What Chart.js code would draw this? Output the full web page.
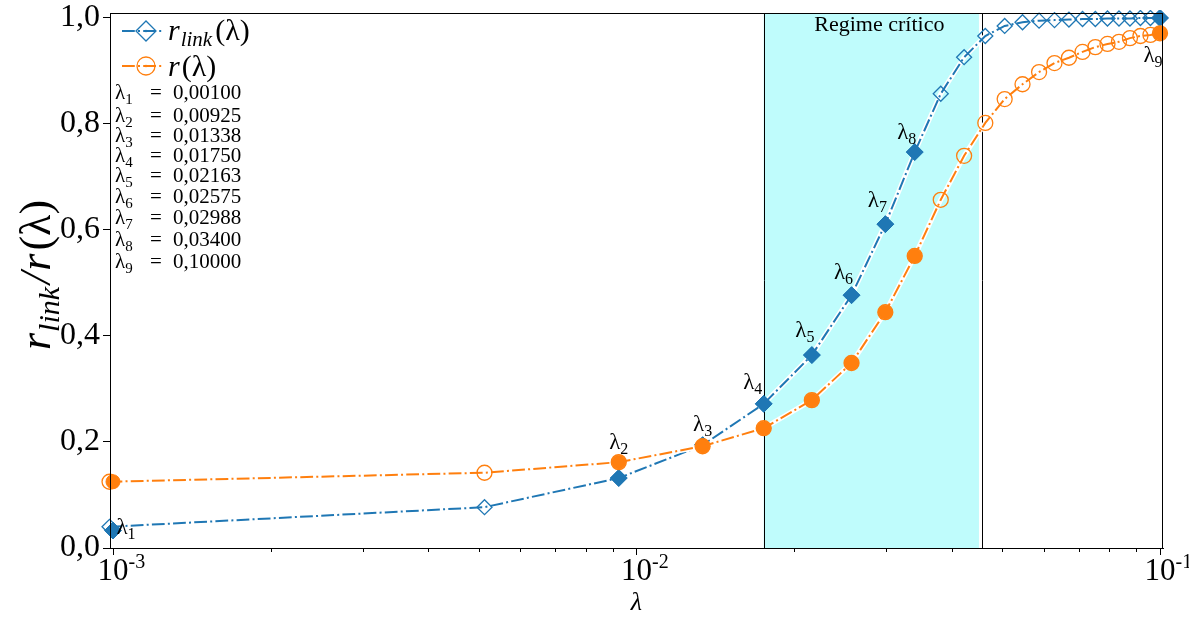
<!DOCTYPE html>
<html>
<head>
<meta charset="utf-8">
<script src="https://cdn.jsdelivr.net/npm/chart.js@4.4.0/dist/chart.umd.min.js"></script>
<style>
  html, body { margin: 0; padding: 0; background: #fff; }
  #wrap { width: 1189px; height: 617px; }
</style>
</head>
<body>
<div id="wrap"><canvas id="rChart" width="1189" height="617"></canvas></div>
<script>
// --- Data ---
const lambdas = [0.000985, 0.005125, 0.00925, 0.013375, 0.0175, 0.021625, 0.02575, 0.029875, 0.034,
                 0.038125, 0.04225, 0.046375, 0.0505, 0.054625, 0.05875, 0.062875, 0.067, 0.071125,
                 0.07525, 0.079375, 0.0835, 0.087625, 0.09175, 0.095875, 0.1];
const rLink = [0.040, 0.077, 0.132, 0.194, 0.272, 0.364, 0.477, 0.611, 0.747,
               0.857, 0.926, 0.966, 0.985, 0.992, 0.995, 0.996, 0.997, 0.998,
               0.998, 0.999, 0.999, 0.999, 1.0, 1.0, 1.0];
const rNet = [0.125, 0.142, 0.162, 0.192, 0.226, 0.279, 0.349, 0.445, 0.551,
              0.657, 0.740, 0.802, 0.847, 0.875, 0.898, 0.915, 0.925, 0.936,
              0.945, 0.951, 0.955, 0.962, 0.966, 0.968, 0.971];

// highlighted lambda values (filled markers)
const markLambdas = [0.00100, 0.00925, 0.01338, 0.01750, 0.02163, 0.02575, 0.02988, 0.03400, 0.10000];
const markLabels = ['0,00100', '0,00925', '0,01338', '0,01750', '0,02163', '0,02575', '0,02988', '0,03400', '0,10000'];
const markRLink = [0.033, 0.132, 0.194, 0.272, 0.364, 0.477, 0.611, 0.747, 1.0];
const markR = [0.125, 0.162, 0.192, 0.226, 0.279, 0.349, 0.445, 0.551, 0.971];

const criticalBand = [0.0175, 0.0451];
const bandEdges = [0.0175, 0.0457];
const bandTitle = 'Regime crítico';

const yTicks = [0.0, 0.2, 0.4, 0.6, 0.8, 1.0];
const xMajor = [0.001, 0.01, 0.1];
const xMajorExp = ['-3', '-2', '-1'];
const xMinorFactors = [2, 3, 4, 5, 6, 7, 8, 9];

const BLUE = '#1f77b4';
const ORANGE = '#ff7f0e';
const SERIF = '"Liberation Serif", "DejaVu Serif", serif';
const DASHDOT = [12.8, 3.2, 2, 3.2];

// where each lambda_i label sits: which curve it follows, and (dx, dy) from that marker
const labelAnchors = [
  ['link', 13, -4], ['r', 0, -21], ['link', 0, -22], ['link', -11, -22], ['link', -7, -26],
  ['link', -8, -24], ['link', -8, -25], ['link', -8, -21], ['r', -7, 21]
];

// --- Helpers ---
function pts(xs, ys) {
  return xs.map((v, i) => ({ x: v, y: ys[i] }));
}

// lambda with a numeric subscript, centred on (cx, cy)
function drawLambdaSub(ctx, cx, cy, idx, size, align) {
  const main = size + 'px ' + SERIF;
  const sub = Math.round(size * 0.7) + 'px ' + SERIF;
  ctx.font = main;
  const w1 = ctx.measureText('λ').width;
  ctx.font = sub;
  const w2 = ctx.measureText(String(idx)).width;
  const left = align === 'left' ? cx : cx - (w1 + w2) / 2;
  ctx.textBaseline = 'alphabetic';
  ctx.textAlign = 'left';
  ctx.font = main;
  ctx.fillText('λ', left, cy + size * 0.33);
  ctx.font = sub;
  ctx.fillText(String(idx), left + w1, cy + size * 0.33 + size * 0.22);
  return left + w1 + w2;
}

// text pieces with subscripts, laid out left to right
function drawRich(ctx, x, y, parts) {
  let cx = x;
  parts.forEach(p => {
    ctx.font = p.font;
    ctx.fillText(p.t, cx, y + (p.dy || 0));
    cx += ctx.measureText(p.t).width + (p.gap || 0);
  });
  return cx;
}
function richWidth(ctx, parts) {
  let w = 0;
  parts.forEach(p => { ctx.font = p.font; w += ctx.measureText(p.t).width + (p.gap || 0); });
  return w;
}

function drawMarker(ctx, style, x, y, r, color, filled) {
  ctx.save();
  ctx.beginPath();
  if (style === 'diamond') {
    ctx.moveTo(x - r, y); ctx.lineTo(x, y - r); ctx.lineTo(x + r, y); ctx.lineTo(x, y + r); ctx.closePath();
  } else {
    ctx.arc(x, y, r, 0, Math.PI * 2);
  }
  ctx.lineWidth = 1.3;
  ctx.strokeStyle = color;
  if (filled) { ctx.fillStyle = color; ctx.fill(); }
  ctx.stroke();
  ctx.restore();
}

// --- Decorations drawn around the datasets ---
const decor = {
  id: 'decor',
  beforeDatasetsDraw(chart) {
    const { ctx, chartArea: a, scales: { x } } = chart;
    ctx.save();
    const x0 = x.getPixelForValue(criticalBand[0]);
    const x1 = x.getPixelForValue(criticalBand[1]);
    ctx.fillStyle = 'rgb(191, 252, 252)';
    ctx.fillRect(x0, a.top, x1 - x0, a.bottom - a.top);
    ctx.strokeStyle = '#000';
    ctx.lineWidth = 1;
    bandEdges.forEach(v => {
      const px = Math.round(x.getPixelForValue(v)) + 0.5;
      ctx.beginPath(); ctx.moveTo(px, a.top); ctx.lineTo(px, a.bottom); ctx.stroke();
    });
    ctx.fillStyle = '#000';
    ctx.font = '22px ' + SERIF;
    ctx.textAlign = 'center';
    ctx.textBaseline = 'alphabetic';
    ctx.fillText(bandTitle, (x0 + x1) / 2 + 8, a.top + 18);
    ctx.restore();
  },
  afterDraw(chart) {
    const { ctx, chartArea: a, scales: { x, y } } = chart;
    ctx.save();

    // frame
    ctx.strokeStyle = '#000';
    ctx.lineWidth = 1;
    ctx.strokeRect(a.left + 0.5, a.top + 0.5, a.right - a.left - 1, a.bottom - a.top);

    // log ticks on the x axis
    ctx.beginPath();
    xMajor.forEach((v, k) => {
      const px = Math.round(x.getPixelForValue(v)) + 0.5;
      ctx.moveTo(px, a.bottom); ctx.lineTo(px, a.bottom + 7);
      if (k < xMajor.length - 1) {
        xMinorFactors.forEach(m => {
          const mx = Math.round(x.getPixelForValue(v * m)) + 0.5;
          ctx.moveTo(mx, a.bottom); ctx.lineTo(mx, a.bottom + 4);
        });
      }
    });
    ctx.stroke();

    // x tick labels, 10 with a superscript exponent
    ctx.fillStyle = '#000';
    ctx.textBaseline = 'alphabetic';
    xMajor.forEach((v, k) => {
      const px = x.getPixelForValue(v);
      ctx.font = '31px ' + SERIF;
      ctx.textAlign = 'center';
      ctx.fillText('10', px, a.bottom + 32);
      const w = ctx.measureText('10').width;
      ctx.font = '20px ' + SERIF;
      ctx.textAlign = 'left';
      ctx.fillText(xMajorExp[k], px + w / 2, a.bottom + 20);
    });

    // axis titles
    ctx.font = 'italic 26px ' + SERIF;
    ctx.textAlign = 'center';
    ctx.fillText('λ', (a.left + a.right) / 2, a.bottom + 62);

    const yParts = [
      { t: 'r', font: 'italic 44px ' + SERIF, gap: 1 },
      { t: 'link', font: 'italic 30px ' + SERIF, dy: 9, gap: 3 },
      { t: '/', font: 'italic 44px ' + SERIF, gap: 1 },
      { t: 'r', font: 'italic 44px ' + SERIF, gap: 3 },
      { t: '(λ)', font: '44px ' + SERIF }
    ];
    ctx.save();
    ctx.translate(50, 275);
    ctx.rotate(-Math.PI / 2);
    ctx.textAlign = 'left';
    drawRich(ctx, -richWidth(ctx, yParts) / 2, 0, yParts);
    ctx.restore();

    // legend
    const lx = 122;
    [[BLUE, 'diamond', 31, 10], [ORANGE, 'circle', 66, 9]].forEach(([c, s, ly, r]) => {
      ctx.save();
      ctx.strokeStyle = c; ctx.lineWidth = 2; ctx.setLineDash(DASHDOT);
      ctx.beginPath(); ctx.moveTo(lx, ly); ctx.lineTo(lx + 42, ly); ctx.stroke();
      ctx.restore();
      drawMarker(ctx, s, lx + 24, ly, r, c, false);
      ctx.fillStyle = c;
      ctx.beginPath(); ctx.arc(lx + 24, ly, 1.2, 0, Math.PI * 2); ctx.fill();
    });
    ctx.fillStyle = '#000';
    ctx.textAlign = 'left';
    drawRich(ctx, 168, 40, [
      { t: 'r', font: 'italic 30px ' + SERIF, gap: 1 },
      { t: 'link', font: 'italic 21px ' + SERIF, dy: 6, gap: 3 },
      { t: '(λ)', font: '30px ' + SERIF }
    ]);
    drawRich(ctx, 168, 76, [
      { t: 'r', font: 'italic 30px ' + SERIF, gap: 2 },
      { t: '(λ)', font: '30px ' + SERIF }
    ]);
    const rowY = [92, 115, 135, 155, 175, 196, 217, 239, 261];
    markLabels.forEach((txt, i) => {
      drawLambdaSub(ctx, 115, rowY[i], i + 1, 21, 'left');
      ctx.font = '21px ' + SERIF;
      ctx.textAlign = 'left';
      ctx.fillText('=', 150, rowY[i] + 7);
      ctx.fillText(txt, 173, rowY[i] + 7);
    });

    // lambda_i labels next to the highlighted points
    markLambdas.forEach((v, i) => {
      const [curve, dx, dy] = labelAnchors[i];
      const yv = curve === 'r' ? markR[i] : markRLink[i];
      drawLambdaSub(ctx, x.getPixelForValue(v) + dx, y.getPixelForValue(yv) + dy, i + 1, 23);
    });

    ctx.restore();
  }
};

// --- Chart ---
const ctx = document.getElementById('rChart').getContext('2d');

const transparent = 'rgba(0,0,0,0)';

new Chart(ctx, {
  type: 'line',
  data: {
    datasets: [
      { // white halo beneath the blue curve
        data: pts(lambdas, rLink), borderColor: '#fff', borderWidth: 5,
        pointRadius: 0, order: 10
      },
      {
        label: 'r_link(λ)', data: pts(lambdas, rLink),
        borderColor: BLUE, borderWidth: 2, borderDash: DASHDOT,
        pointStyle: 'rectRot', pointRadius: 7.5, pointBorderWidth: 1.3,
        pointBorderColor: BLUE, pointBackgroundColor: transparent, order: 9
      },
      {
        data: pts(markLambdas, markRLink), showLine: false,
        pointStyle: 'rectRot', pointRadius: 8.5, pointBorderWidth: 1,
        pointBorderColor: BLUE, pointBackgroundColor: BLUE, order: 8
      },
      { // white halo beneath the orange curve
        data: pts(lambdas, rNet), borderColor: '#fff', borderWidth: 5,
        pointRadius: 0, order: 7
      },
      {
        label: 'r(λ)', data: pts(lambdas, rNet),
        borderColor: ORANGE, borderWidth: 2, borderDash: DASHDOT,
        pointStyle: 'circle', pointRadius: 7.5, pointBorderWidth: 1.3,
        pointBorderColor: ORANGE, pointBackgroundColor: transparent, order: 6
      },
      {
        data: pts(markLambdas, markR), showLine: false,
        pointStyle: 'circle', pointRadius: 7, pointBorderWidth: 1,
        pointBorderColor: ORANGE, pointBackgroundColor: ORANGE, order: 5
      }
    ]
  },
  options: {
    responsive: false,
    devicePixelRatio: 1,
    animation: false,
    clip: { left: 12, right: 12, top: 3, bottom: 12 },
    layout: { padding: { top: 13, right: 26, left: 0, bottom: 0 } },
    plugins: { legend: { display: false }, tooltip: { enabled: false } },
    elements: { line: { tension: 0, fill: false } },
    scales: {
      x: {
        type: 'logarithmic',
        min: 0.000987,
        max: 0.10133,
        grid: { display: false },
        border: { display: true, color: '#000', width: 1 },
        ticks: { display: false },
        afterBuildTicks: s => {
          const t = [];
          xMajor.forEach((v, k) => {
            t.push({ value: v, major: true });
            if (k < xMajor.length - 1) xMinorFactors.forEach(m => t.push({ value: v * m }));
          });
          s.ticks = t;
        },
        afterFit: s => { s.height = 69; s.paddingLeft = 0; s.paddingRight = 0; }
      },
      y: {
        min: 0,
        max: 1.0094,
        afterBuildTicks: s => { s.ticks = yTicks.map(v => ({ value: v })); },
        ticks: {
          color: '#000',
          padding: 3,
          font: { family: 'Liberation Serif', size: 32 },
          callback: v => v.toFixed(1).replace('.', ',')
        },
        grid: { drawOnChartArea: false, tickLength: 7, color: '#000' },
        border: { display: true, color: '#000', width: 1 },
        afterFit: s => { s.width = 110; s.paddingTop = 0; s.paddingBottom = 0; }
      }
    }
  },
  plugins: [decor]
});
</script>
</body>
</html>
